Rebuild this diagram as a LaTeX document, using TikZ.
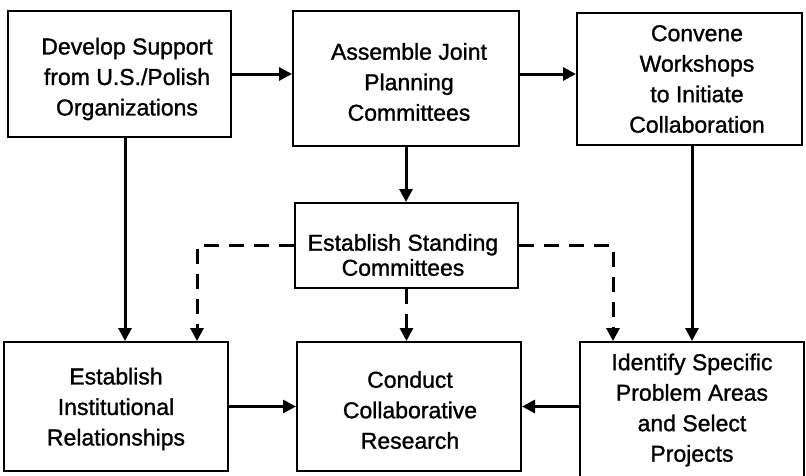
\documentclass[tikz,border=0pt]{standalone}
\usepackage{fontspec}
\setmainfont[FakeBold=1.2]{Liberation Sans}
\usetikzlibrary{arrows.meta}
\begin{document}
\begin{tikzpicture}[x=1pt,y=-1pt,
  box/.style={draw=black, line width=2pt, rectangle, inner sep=0pt, fill=white},
  txt/.style={align=center, inner sep=0pt, font=\fontsize{23}{30.5}\selectfont},
  arr/.style={line width=3pt, -{Triangle[length=13pt,width=13pt]}},
  darr/.style={line width=3pt, dash pattern=on 15pt off 10pt, -{Triangle[length=13pt,width=13pt]}}]
\useasboundingbox (0,0) rectangle (806,475);
\fill[white] (0,0) rectangle (806,475);
% boxes
\node[box, minimum width=223pt, minimum height=126pt] (b1) at (119.5,74) {};
\node[box, minimum width=226pt, minimum height=135pt] (b2) at (406,78.5) {};
\node[box, minimum width=225pt, minimum height=132pt] (b3) at (689.5,79) {};
\node[box, minimum width=223pt, minimum height=85pt] (b4) at (406.5,245.5) {};
\node[box, minimum width=224pt, minimum height=129pt] (b5) at (116,406.5) {};
\node[box, minimum width=224pt, minimum height=129pt] (b6) at (409,406.5) {};
\node[box, minimum width=224pt, minimum height=136pt] (b7) at (692,410) {};
% texts
\node[txt] (t1) at (127,79) {Develop Support\\from U.S./Polish\\Organizations};
\node[txt] (t2) at (409,82) {Assemble Joint\\Planning\\Committees};
\node[txt] (t3) at (697,79) {Convene\\Workshops\\to Initiate\\Collaboration};
\node[txt, font=\fontsize{23}{25}\selectfont] (t4) at (403,255) {Establish Standing\\Committees};
\node[txt] (t5) at (116,409) {Establish\\Institutional\\Relationships};
\node[txt] (t6) at (410,410) {Conduct\\Collaborative\\Research};
\node[txt] (t7) at (692,410) {Identify Specific\\Problem Areas\\and Select\\Projects};
% helper coordinates
\coordinate (c125) at (125,0);
\coordinate (dl) at (197,0);
\coordinate (dr) at (613,0);
% solid connectors
\draw[arr] (b1.east) -- (b1.east -| b2.west);
\draw[arr] (b2.east |- b1.east) -- (b3.west |- b1.east);
\draw[arr] (b2.south) -- (b2.south |- b4.north);
\draw[arr] (b1.south -| c125) -- (b5.north -| c125);
\draw[arr] (b3.south -| b7.north) -- (b7.north);
\draw[arr] (b5.east) -- (b5.east -| b6.west);
\draw[arr] (b7.west |- b6.east) -- (b6.east);
% dashed connectors
\draw[darr] (b4.west) -- (b4.west -| dl) -- (b5.north -| dl);
\draw[darr] (b4.east) -- (b4.east -| dr) -- (b7.north -| dr);
\draw[darr] (b4.south) -- (b4.south |- b6.north);
\end{tikzpicture}
\end{document}
